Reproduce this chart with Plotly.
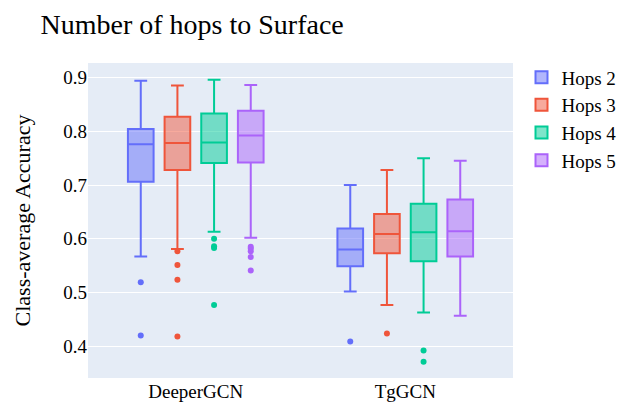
import plotly.graph_objects as go

models = ["DeeperGCN", "TgGCN"]
hops = ["Hops 2", "Hops 3", "Hops 4", "Hops 5"]

# box statistics, one entry per model
upper = {
    "Hops 2": [0.894, 0.700],
    "Hops 3": [0.885, 0.728],
    "Hops 4": [0.896, 0.750],
    "Hops 5": [0.886, 0.745],
}
q3 = {
    "Hops 2": [0.804, 0.619],
    "Hops 3": [0.827, 0.646],
    "Hops 4": [0.833, 0.665],
    "Hops 5": [0.838, 0.673],
}
median = {
    "Hops 2": [0.776, 0.580],
    "Hops 3": [0.778, 0.609],
    "Hops 4": [0.779, 0.612],
    "Hops 5": [0.792, 0.614],
}
q1 = {
    "Hops 2": [0.706, 0.549],
    "Hops 3": [0.728, 0.573],
    "Hops 4": [0.741, 0.558],
    "Hops 5": [0.742, 0.567],
}
lower = {
    "Hops 2": [0.567, 0.502],
    "Hops 3": [0.581, 0.477],
    "Hops 4": [0.613, 0.463],
    "Hops 5": [0.602, 0.457],
}
outliers = {
    "Hops 2": [[0.519, 0.420], [0.409]],
    "Hops 3": [[0.577, 0.551, 0.524, 0.418], [0.424]],
    "Hops 4": [[0.600, 0.586, 0.583, 0.477], [0.392, 0.371]],
    "Hops 5": [[0.585, 0.582, 0.577, 0.566, 0.541], []],
}

colors = ["#636efa", "#EF553B", "#00cc96", "#ab63fa"]
_FONT = "Times New Roman, Liberation Serif, serif"

fig = go.Figure()
for i, h in enumerate(hops):
    fig.add_trace(go.Box(
        name=h,
        x=models,
        y=outliers[h],
        q1=q1[h], median=median[h], q3=q3[h],
        lowerfence=lower[h], upperfence=upper[h],
        boxpoints="outliers",
        marker_color=colors[i],
    ))

fig.update_layout(
    template="plotly",
    boxmode="group",
    width=625, height=406,
    title={"text": "Number of hops to Surface", "x": 0.052, "xanchor": "left",
           "y": 0.96, "yanchor": "middle",
           "font": {"family": _FONT, "size": 28, "color": "#000"}},
    font={"family": _FONT, "size": 19, "color": "#000"},
    margin={"l": 80, "r": 104, "t": 55, "b": 26},
    xaxis={"tickfont": {"family": _FONT, "size": 19, "color": "#000"}},
    yaxis={"title": {"text": "Class-average Accuracy", "standoff": 26,
                     "font": {"family": _FONT, "size": 22, "color": "#000"}},
           "range": [0.341, 0.927], "dtick": 0.1, "zeroline": False,
           "tickfont": {"family": _FONT, "size": 19, "color": "#000"}},
    legend={"y": 1.015, "yanchor": "top",
            "font": {"family": _FONT, "size": 19, "color": "#000"}},
)

fig.write_html("out.html")
